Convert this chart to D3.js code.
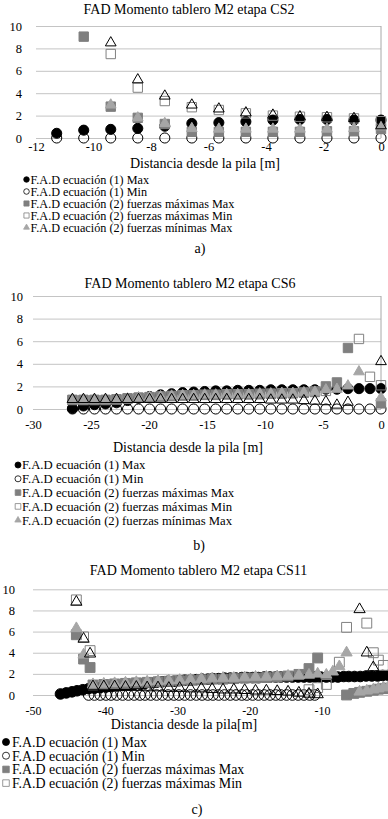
<!DOCTYPE html>
<html>
<head>
<meta charset="utf-8">
<script src="https://cdn.jsdelivr.net/npm/d3@7"></script>
<style>
  body { margin: 0; background: #fff; }
  svg { display: block; background: #fff; }
</style>
</head>
<body>
<svg id="chart" width="388" height="819"></svg>
<script>
// ---- datos ----
const seriesNames = [
  "F.A.D ecuación (1) Max",
  "F.A.D ecuación (1) Min",
  "F.A.D ecuación (2) fuerzas máximas Max",
  "F.A.D ecuación (2) fuerzas máximas Min",
  "F.A.D ecuación (2) fuerzas mínimas Max",
  "F.A.D ecuación (2) fuerzas mínimas Min"
];
const yTicks = [0, 2, 4, 6, 8, 10];
const ticksA = [-12, -10, -8, -6, -4, -2, 0];
const ticksB = [-30, -25, -20, -15, -10, -5, 0];
const ticksC = [-50, -40, -30, -20, -10]; // el "0" queda fuera del recorte

// a) etapa CS2
const a_x = [-11.28, -10.34, -9.4, -8.46, -7.52, -6.58, -5.64, -4.7, -3.76, -2.82, -1.88, -0.94, 0];
const a_eq1Max = [0.42, 0.7, 0.77, 0.86, 1.05, 1.3, 1.37, 1.46, 1.6, 1.65, 1.65, 1.6, 1.6];
const a_eq1Min = [0, 0, 0, 0, 0, 0, 0, 0, 0, 0, 0, 0, 0];
const a_fmaxMax = [null, 9.05, 2.8, 1.8, 1.25, 0.55, 0.55, 0.55, 0.55, 0.55, 0.6, 0.6, 0.8];
const a_fmaxMin = [null, null, 7.5, 4.5, 3.3, 2.75, 2.5, 2.2, 2.0, 1.9, 1.85, 1.75, 1.5];
const a_fminMax = [null, null, 2.95, 1.8, 1.3, 0.85, 0.8, 0.8, 0.8, 0.8, 0.8, 0.85, 1.0];
const a_fminMin = [null, null, 8.5, 5.2, 3.75, 2.95, 2.6, 2.25, 2.05, 1.9, 1.85, 1.75, 1.1];

// b) etapa CS6
const b_x = [-26.6, -25.65, -24.7, -23.75, -22.8, -21.85, -20.9, -19.95, -19.0, -18.05, -17.1, -16.15, -15.2, -14.25, -13.3,
  -12.35, -11.4, -10.45, -9.5, -8.55, -7.6, -6.65, -5.7, -4.75, -3.8, -2.85, -1.9, -0.95, 0];
const b_eq1Max = [0.05, 0.27, 0.38, 0.45, 0.55, 0.75, 0.95, 1.1, 1.25, 1.35, 1.45, 1.5, 1.55, 1.6, 1.6,
  1.65, 1.65, 1.65, 1.7, 1.7, 1.7, 1.7, 1.7, 1.75, 1.75, 1.8, 1.8, 1.8, 1.8];
const b_eq1Min = [0, 0, 0, 0, 0, 0, 0, 0, 0, 0, 0, 0, 0, 0, 0, 0, 0, 0, 0, 0, 0, 0, 0, 0, 0, 0, 0, 0, 0];
const b_fmaxMax = [0.8, 0.8, 0.8, 0.8, 0.85, 0.95, 1.0, 1.05, 1.1, 1.15, 1.2, 1.2, 1.25, 1.25, 1.3,
  1.3, 1.3, 1.3, 1.35, 1.35, 1.4, 1.45, 1.55, 2.0, 2.35, 5.4, null, null, 0.5];
const b_fmaxMin = [0.8, 0.8, 0.8, 0.8, 0.85, 0.9, 1.0, 1.05, 1.1, 1.15, 1.2, 1.2, 1.25, 1.25, 1.3,
  1.3, 1.3, 1.35, 1.35, 1.4, 1.4, 1.45, 1.5, 1.6, null, null, 6.2, 2.85, 2.1];
const b_fminMax = [0.8, 0.8, 0.8, 0.8, 0.85, 0.9, 1.0, 1.05, 1.1, 1.15, 1.2, 1.2, 1.25, 1.25, 1.3,
  1.3, 1.3, 1.35, 1.35, 1.4, 1.4, 1.45, 1.5, 1.7, 1.75, 2.05, 3.3, null, 1.0];
const b_fminMin = [0.85, 0.85, 0.85, 0.85, 0.85, 0.85, 0.85, 0.85, 0.85, 0.85, 0.85, 0.85, 0.85, 0.85, 0.85,
  0.85, 0.85, 0.85, 0.8, 0.8, 0.8, 0.75, 0.7, 0.65, 0.35, 0.6, null, null, 4.2];

// c) etapa CS11
const c_x1 = [-46.2, -45.4, -44.6, -43.9, -43.1, -42.3, -41.5, -40.7, -39.9, -39.2,
  -38.4, -37.6, -36.8, -36.0, -35.2, -34.5, -33.7, -32.9, -32.1, -31.3,
  -30.5, -29.8, -29.0, -28.2, -27.4, -26.6, -25.8, -25.1, -24.3, -23.5,
  -22.7, -21.9, -21.1, -20.4, -19.6, -18.8, -18.0, -17.2, -16.4, -15.7,
  -14.9, -14.1, -13.3, -12.5, -11.7, -11.0, -10.2, -9.4, -8.6, -7.8,
  -7.0, -6.3, -5.5, -4.7, -3.9, -3.1, -2.3, -1.6, -0.8];
const c_eq1Max = [0.1, 0.2, 0.3, 0.4, 0.5, 0.6, 0.65, 0.7, 0.75, 0.8,
  0.85, 0.9, 0.95, 1.0, 1.05, 1.1, 1.15, 1.2, 1.25, 1.3,
  1.3, 1.35, 1.4, 1.4, 1.45, 1.5, 1.5, 1.55, 1.55, 1.6,
  1.6, 1.6, 1.65, 1.65, 1.65, 1.65, 1.7, 1.7, 1.7, 1.7,
  1.7, 1.7, 1.7, 1.7, 1.7, 1.7, 1.7, 1.7, 1.7, 1.7,
  1.75, 1.75, 1.75, 1.75, 1.8, 1.8, 1.8, 1.85, 1.85];
const c_eq1Min = [null, null, null, null, null, 0, 0, 0, 0, 0,
  0, 0, 0, 0, 0, 0, 0, 0, 0, 0,
  0, 0, 0, 0, 0, 0, 0, 0, 0, 0,
  0, 0, 0, 0, 0, 0, 0, 0, 0, 0,
  0, 0, 0, 0, 0, 0, null, null, null, null,
  null, null, null, null, null, null, null, null, null];
const c_x2 = [-44.0, -43.0, -42.1, -41.7, -40.2, -38.7, -37.2, -35.7, -34.2, -32.7, -31.2, -29.7, -28.2,
  -26.7, -25.2, -23.7, -22.2, -20.7, -19.2, -17.7, -16.2, -14.7, -13.2, -11.8, -10.6,
  -9.4, -8.5, -7.6, -6.6, -5.6, -4.8, -3.8, -2.9, -2.2, -1.5, -0.8];
const c_fmaxMax = [5.7, 3.4, 2.6, 0.95, 1.0, 1.05, 1.1, 1.15, 1.2, 1.25, 1.3, 1.35, 1.4,
  1.45, 1.5, 1.5, 1.55, 1.6, 1.6, 1.65, 1.7, 1.8, 1.95, 2.5, 3.5,
  null, null, null, 0.0, 0.15, 0.25, 0.35, 0.45, 0.55, 0.6, 0.65];
const c_fmaxMin = [9.0, 5.5, 4.2, null, null, null, null, null, null, null, null, null, null,
  null, null, null, null, null, null, null, null, null, null, 0.5, 0.7,
  1.0, null, 3.1, 6.4, null, null, 6.8, 4.0, 3.3, 2.8, null];
const c_fminMax = [6.3, 3.8, null, 1.0, 1.05, 1.1, 1.15, 1.2, 1.25, 1.3, 1.35, 1.4, 1.45,
  1.5, 1.55, 1.6, 1.6, 1.65, 1.7, 1.7, 1.75, 1.8, 1.85, 1.9, 2.0,
  1.9, 2.2, 2.7, 4.0, null, 0.3, 0.4, 0.5, 0.6, 0.7, 0.8];
const c_fminMin = [8.8, 5.3, 3.9, 0.8, 0.8, 0.8, 0.75, 0.75, 0.7, 0.7, 0.65, 0.65, 0.6,
  0.6, 0.55, 0.5, 0.5, 0.45, 0.4, 0.4, 0.35, 0.3, 0.2, 0.1, 0.05,
  null, null, null, null, null, 8.1, 4.0, 2.6, null, null, null];

// ---- estilo de marcadores (orden de las series) ----
const FONT = '"Liberation Serif", "Times New Roman", serif';
const markStyle = [
  { type: d3.symbolCircle, fill: '#000', stroke: '#000', k: 1 },
  { type: d3.symbolCircle, fill: 'none', stroke: '#000', k: 1 },
  { type: d3.symbolSquare, fill: '#7f7f7f', stroke: '#7f7f7f', k: 1.1 },
  { type: d3.symbolSquare, fill: 'none', stroke: '#808080', k: 1.1 },
  { type: d3.symbolTriangle, fill: '#a6a6a6', stroke: '#a6a6a6', k: 0.62 },
  { type: d3.symbolTriangle, fill: 'none', stroke: '#000', k: 0.62 }
];

const svg = d3.select('#chart');

function drawPanel(p) {
  const g = svg.append('g');
  const x = d3.scaleLinear().domain(p.xDomain).range([p.left, p.right]);
  const y = d3.scaleLinear().domain([0, 10]).range([p.bottom, p.top]);

  // rejilla + etiquetas eje Y
  const yAxis = g.append('g').attr('transform', `translate(${p.left},0)`)
    .call(d3.axisLeft(y).tickValues(yTicks).tickSize(-(p.right - p.left))
      .tickPadding(p.left - p.yLabelX).tickFormat(d => String(d)));
  yAxis.select('.domain').remove();
  yAxis.selectAll('line').attr('stroke', '#c4c4c4');
  yAxis.attr('font-family', FONT).attr('font-size', 12.5);
  yAxis.selectAll('text').attr('fill', '#000');

  // eje vertical en x = 0
  if (p.showZeroAxis) {
    g.append('line').attr('x1', x(0)).attr('x2', x(0)).attr('y1', y(10)).attr('y2', y(0))
      .attr('stroke', '#a8a8a8');
  }

  // eje X (solo etiquetas)
  const xAxis = g.append('g').attr('transform', `translate(0,${p.bottom})`)
    .call(d3.axisBottom(x).tickValues(p.ticks).tickSize(0).tickFormat(d => String(d)));
  xAxis.select('.domain').remove();
  xAxis.attr('font-family', FONT).attr('font-size', p.tickFont);
  xAxis.selectAll('text').attr('y', p.tickY - p.bottom).attr('dy', '0.35em').attr('fill', '#000');

  // marcadores
  p.series.forEach((s, k) => {
    const st = markStyle[k];
    const pts = s.x.map((xv, i) => ({ x: xv, v: s.v[i] })).filter(d => d.v !== null);
    const sym = d3.symbol().type(st.type).size(p.mSize * p.mSize * st.k * 0.8);
    g.append('g').selectAll('path').data(pts).join('path')
      .attr('d', sym)
      .attr('transform', d => `translate(${x(d.x)},${y(d.v)})`)
      .attr('fill', st.fill).attr('stroke', st.stroke).attr('stroke-width', 1);
  });

  // título
  g.append('text').attr('x', p.titleX).attr('y', p.titleY).attr('dy', '0.35em')
    .attr('text-anchor', 'middle').attr('font-family', FONT).attr('font-size', 14)
    .text(p.title);

  // título eje X
  g.append('text').attr('x', p.axisTitleX).attr('y', p.axisTitleY).attr('dy', '0.35em')
    .attr('text-anchor', 'middle').attr('font-family', FONT).attr('font-size', 14)
    .text(p.axisTitle);

  // leyenda
  for (let i = 0; i < p.legendCount; i++) {
    const st = markStyle[i];
    const ly = p.legendY + i * p.legendDy;
    g.append('path')
      .attr('d', d3.symbol().type(st.type).size(p.legendMark * p.legendMark * st.k * 0.8)())
      .attr('transform', `translate(${p.legendX},${ly})`)
      .attr('fill', st.fill)
      .attr('stroke', st.stroke).attr('stroke-width', 0.8);
    g.append('text').attr('x', p.legendTextX).attr('y', ly).attr('dy', '0.35em')
      .attr('font-family', FONT).attr('font-size', p.legendFont)
      .text(seriesNames[i]);
  }

  // letra del panel
  g.append('text').attr('x', p.labelX).attr('y', p.labelY).attr('dy', '0.35em')
    .attr('text-anchor', 'middle').attr('font-family', FONT).attr('font-size', 14)
    .text(p.label);
}

drawPanel({
  title: 'FAD Momento tablero M2 etapa CS2', titleX: 189, titleY: 9.5,
  xDomain: [-12, 0], ticks: ticksA, left: 36, right: 381, top: 26, bottom: 138,
  yLabelX: 22, tickY: 147, tickFont: 12.5, showZeroAxis: true, mSize: 10,
  axisTitle: 'Distancia desde la pila [m]', axisTitleX: 205, axisTitleY: 163.5,
  legendCount: 5, legendX: 26.5, legendTextX: 30.5, legendY: 179.5, legendDy: 12, legendFont: 12.2, legendMark: 5.5,
  label: 'a)', labelX: 200, labelY: 248,
  series: [
    { x: a_x, v: a_eq1Max }, { x: a_x, v: a_eq1Min }, { x: a_x, v: a_fmaxMax },
    { x: a_x, v: a_fmaxMin }, { x: a_x, v: a_fminMax }, { x: a_x, v: a_fminMin }
  ]
});

drawPanel({
  title: 'FAD Momento tablero M2 etapa CS6', titleX: 190, titleY: 283.5,
  xDomain: [-30, 0], ticks: ticksB, left: 33, right: 381, top: 296, bottom: 409,
  yLabelX: 23, tickY: 425, tickFont: 12.5, showZeroAxis: true, mSize: 10,
  axisTitle: 'Distancia desde la pila [m]', axisTitleX: 188, axisTitleY: 447,
  legendCount: 5, legendX: 18, legendTextX: 22, legendY: 465, legendDy: 13.8, legendFont: 12.7, legendMark: 6,
  label: 'b)', labelX: 199, labelY: 545,
  series: [
    { x: b_x, v: b_eq1Max }, { x: b_x, v: b_eq1Min }, { x: b_x, v: b_fmaxMax },
    { x: b_x, v: b_fmaxMin }, { x: b_x, v: b_fminMax }, { x: b_x, v: b_fminMin }
  ]
});

drawPanel({
  title: 'FAD Momento tablero M2 etapa CS11', titleX: 198.5, titleY: 570,
  xDomain: [-50, 0], ticks: ticksC, left: 33, right: 394.25, top: 589.3, bottom: 695,
  yLabelX: 15, tickY: 711, tickFont: 12, showZeroAxis: false, mSize: 10.5,
  axisTitle: 'Distancia desde la pila[m]', axisTitleX: 184, axisTitleY: 724,
  legendCount: 4, legendX: 6, legendTextX: 12, legendY: 742, legendDy: 13.7, legendFont: 13.9, legendMark: 7,
  label: 'c)', labelX: 197, labelY: 809,
  series: [
    { x: c_x1, v: c_eq1Max }, { x: c_x1, v: c_eq1Min }, { x: c_x2, v: c_fmaxMax },
    { x: c_x2, v: c_fmaxMin }, { x: c_x2, v: c_fminMax }, { x: c_x2, v: c_fminMin }
  ]
});
</script>
</body>
</html>
